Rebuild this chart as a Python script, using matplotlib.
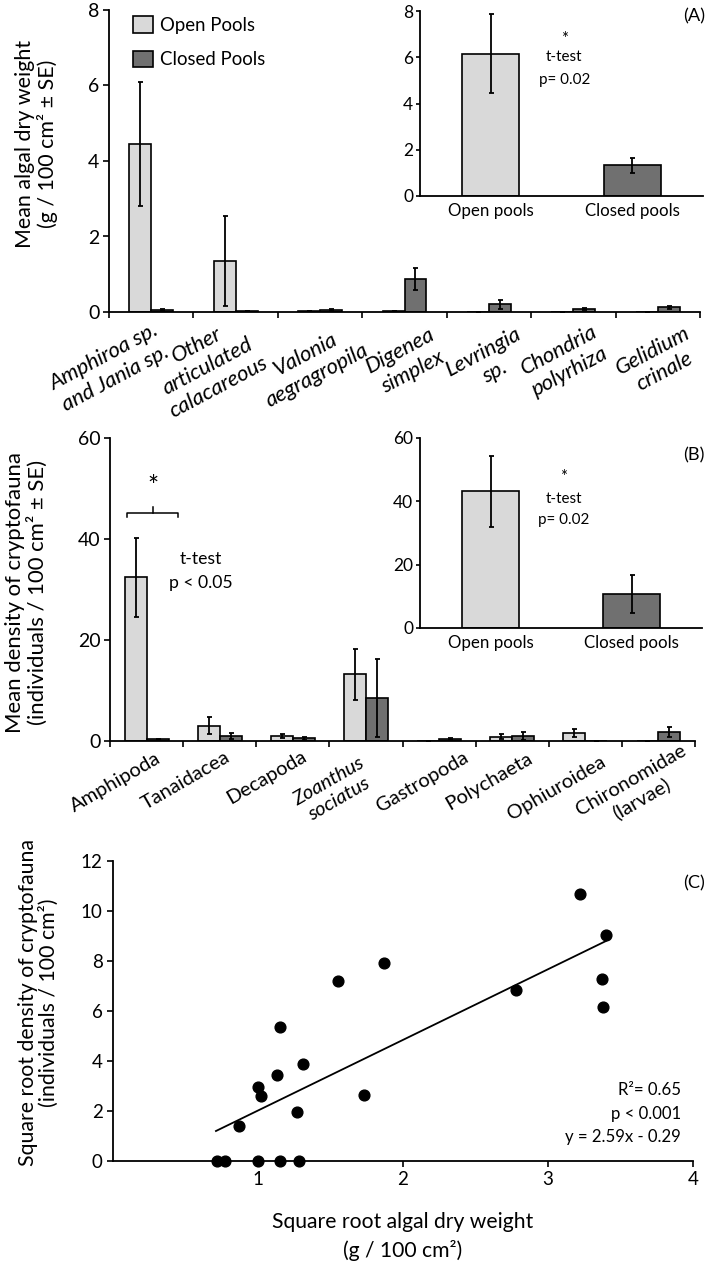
import numpy as np
import matplotlib
matplotlib.use("Agg")
import matplotlib.pyplot as plt

# ---- panel A: algal dry weight ----
algae = ["Amphiroa sp.\nand Jania sp.", "Other\narticulated\ncalacareous", "Valonia\naegragropila",
         "Digenea\nsimplex", "Levringia\nsp.", "Chondria\npolyrhiza", "Gelidium\ncrinale"]
alg_open = [4.45, 1.35, 0.02, 0.02, 0.0, 0.0, 0.0]
alg_open_se = [1.65, 1.18, 0.0, 0.0, 0.0, 0.0, 0.0]
alg_closed = [0.05, 0.02, 0.05, 0.87, 0.20, 0.07, 0.12]
alg_closed_se = [0.02, 0.0, 0.02, 0.30, 0.12, 0.03, 0.04]

pools = ["Open pools", "Closed pools"]
alg_tot = [6.15, 1.33]
alg_tot_se = [1.70, 0.32]

# ---- panel B: cryptofauna density ----
fauna = ["Amphipoda", "Tanaidacea", "Decapoda", "Zoanthus\nsociatus", "Gastropoda",
         "Polychaeta", "Ophiuroidea", "Chironomidae\n(larvae)"]
fau_open = [32.4, 3.0, 0.9, 13.2, 0.0, 0.8, 1.6, 0.0]
fau_open_se = [7.8, 1.7, 0.4, 5.1, 0.0, 0.5, 0.8, 0.0]
fau_closed = [0.3, 0.9, 0.5, 8.5, 0.3, 1.0, 0.0, 1.7]
fau_closed_se = [0.1, 0.6, 0.3, 7.8, 0.2, 0.8, 0.0, 1.0]
fau_tot = [43.2, 10.7]
fau_tot_se = [11.2, 6.0]

# ---- panel C: regression ----
sq_alg = [0.72, 0.77, 1.00, 1.15, 1.28, 0.87, 1.00, 1.02, 1.13, 1.15, 1.27, 1.31,
          1.55, 1.73, 1.87, 2.78, 3.22, 3.40, 3.37, 3.38]
sq_fau = [0.0, 0.0, 0.0, 0.0, 0.0, 1.42, 2.98, 2.61, 3.45, 5.37, 1.98, 3.87,
          7.20, 2.63, 7.92, 6.85, 10.67, 9.05, 7.27, 6.15]
fit_x = [0.71, 3.40]
fit_y = [1.20, 8.80]

# label block centres relative to category centre / axis line (pixels)
lab_off_A = [(-41, 56), (-28, 54), (-9, 53), (2, 49), (0, 50), (-9, 49), (1, 49)]
lab_off_B = [(-31, 41), (-34, 40), (-26, 36), (-32, 49), (-17, 41), (-23, 40), (-29, 47),
             (-22, 49)]

C_OPEN = "#d9d9d9"
C_CLOSED = "#707070"
W, H = 707, 1267
FONT = "Lato"

plt.rcParams["font.family"] = [FONT, "DejaVu Sans"]
fig = plt.figure(figsize=(W / 100, H / 100), dpi=100)
renderer = fig.canvas.get_renderer()


def fit(pairs, **kw):
    # font size giving the text widths (px) measured on the reference
    sizes = []
    for s, target in pairs:
        t = fig.text(0, 0, s, fontsize=20, **kw)
        w = t.get_window_extent(renderer).width
        t.remove()
        sizes.append(20 * target / w)
    return float(np.mean(sizes))


FS_LAB_A = fit([("Amphiroa sp.", 128), ("aegragropila", 112), ("calacareous", 103)], style="italic")
FS_LAB_B = fit([("Amphipoda", 101), ("Tanaidacea", 100)])
FS_LEG = fit([("Open Pools", 95), ("Closed Pools", 105)])
FS_INS = fit([("Open pools", 85), ("Closed pools", 95)])
FS_INS_NOTE = fit([("t-test", 38), ("p= 0.02", 49)])
FS_B_NOTE = fit([("t-test", 42), ("p < 0.05", 65)])
FS_YLAB_A = fit([("Mean algal dry weight", 208)])
FS_YLAB_B = fit([("Mean density of cryptofauna", 282)])
FS_XLAB_C = fit([("Square root algal dry weight", 262)])
FS_YLAB_C = fit([("Square root density of cryptofauna", 327)])
FS_NOTE_C = fit([("y = 2.59x - 0.29", 116)])
FS_TAG = fit([("(A)", 22)])


def px_axes(l, r, t, b):
    return fig.add_axes([l / W, 1 - b / H, (r - l) / W, (b - t) / H])


def style(ax, lw=1.3):
    for s in ["top", "right"]:
        ax.spines[s].set_visible(False)
    for s in ["left", "bottom"]:
        ax.spines[s].set_linewidth(lw)


def grouped(ax, names, op, op_se, cl, cl_se, width, off):
    x = np.arange(len(names))
    eb = dict(ecolor="black", elinewidth=1.3, capsize=1.8, capthick=1.3)
    ax.bar(x - off, op, width, yerr=op_se, color=C_OPEN, edgecolor="black", linewidth=1.2,
           error_kw=eb, label="Open Pools")
    ax.bar(x + off, cl, width, yerr=cl_se, color=C_CLOSED, edgecolor="black", linewidth=1.2,
           error_kw=eb, label="Closed Pools")
    ax.set_xlim(-0.5, len(names) - 0.5)
    ax.set_xticks(np.arange(len(names) + 1) - 0.5)
    ax.set_xticklabels([])
    ax.tick_params(axis="x", length=4, width=1.2, direction="out")
    ax.tick_params(axis="y", length=4, width=1.2, pad=3, labelsize=14)
    style(ax)
    return x


def cat_labels(ax, x, names, offs, rot, fs, italic_all=False):
    for i, name in enumerate(names):
        it = italic_all or name.startswith("Zoanthus")
        dx, dy = offs[i]
        ax.annotate(name, (x[i], 0), xytext=(dx * 0.72, -dy * 0.72), textcoords="offset points",
                    rotation=rot, rotation_mode="anchor", ha="center", va="center",
                    multialignment="center", style="italic" if it else "normal",
                    fontsize=fs, linespacing=1.25, annotation_clip=False)


def inset(ax, vals, se, ymax, step):
    x = np.arange(2)
    eb = dict(ecolor="black", elinewidth=1.3, capsize=1.8, capthick=1.3)
    ax.bar(x, vals, 0.4, yerr=se, color=[C_OPEN, C_CLOSED], edgecolor="black", linewidth=1.2,
           error_kw=eb)
    ax.set_xlim(-0.5, 1.5)
    ax.set_ylim(0, ymax)
    ax.set_yticks(np.arange(0, ymax + 1, step))
    ax.set_xticks(x)
    ax.set_xticklabels(pools, fontsize=FS_INS)
    ax.tick_params(axis="x", length=0, pad=5)
    ax.tick_params(axis="y", length=3, width=1.2, pad=2, labelsize=12.5)
    ax.set_facecolor("none")
    style(ax)


# ---------------- A ----------------
axA = px_axes(109, 700, 10, 312)
xa = grouped(axA, algae, alg_open, alg_open_se, alg_closed, alg_closed_se, 0.26, 0.13)
axA.set_ylim(0, 8)
axA.set_yticks([0, 2, 4, 6, 8])
cat_labels(axA, xa, algae, lab_off_A, 28, FS_LAB_A, italic_all=True)
axA.set_ylabel("Mean algal dry weight\n(g / 100 cm² ± SE)", fontsize=FS_YLAB_A, linespacing=1.1)
axA.yaxis.set_label_coords(-0.086, 0.556)
axA.legend(loc="upper left", bbox_to_anchor=(0.012, 1.035), frameon=False,
           prop=dict(size=FS_LEG), handlelength=1.07, handleheight=1.0,
           labelspacing=0.9, handletextpad=0.4)

axAi = px_axes(420, 703, 11, 196)
inset(axAi, alg_tot, alg_tot_se, 8, 2)
axAi.text(0.52, 6.8, "*", ha="center", va="center", fontsize=12)
axAi.text(0.52, 6.0, "t-test", ha="center", va="center", fontsize=FS_INS_NOTE)
axAi.text(0.52, 5.0, "p= 0.02", ha="center", va="center", fontsize=FS_INS_NOTE)
fig.text(705 / W, 1 - 16 / H, "(A)", ha="right", va="center", fontsize=FS_TAG)

# ---------------- B ----------------
axB = px_axes(110, 695, 438, 741)
xb = grouped(axB, fauna, fau_open, fau_open_se, fau_closed, fau_closed_se, 0.30, 0.15)
axB.set_ylim(0, 60)
axB.set_yticks([0, 20, 40, 60])
cat_labels(axB, xb, fauna, lab_off_B, 30, FS_LAB_B)
axB.set_ylabel("Mean density of cryptofauna\n(individuals / 100 cm² ± SE)", fontsize=FS_YLAB_B,
               linespacing=1.1)
axB.yaxis.set_label_coords(-0.106, 0.49)
# bracket over Amphipoda
axB.plot([-0.27, -0.27, 0.43, 0.43], [44.3, 45.2, 45.2, 44.3], color="black", lw=1.1)
axB.plot([0.085, 0.085], [45.2, 46.3], color="black", lw=1.1)
axB.text(0.085, 50.2, "*", ha="center", va="center", fontsize=19)
axB.text(0.745, 36.0, "t-test", ha="center", va="center", fontsize=FS_B_NOTE)
axB.text(0.745, 31.2, "p < 0.05", ha="center", va="center", fontsize=FS_B_NOTE)

axBi = px_axes(420, 702, 438, 628)
inset(axBi, fau_tot, fau_tot_se, 60, 20)
axBi.text(0.52, 47.6, "*", ha="center", va="center", fontsize=12)
axBi.text(0.52, 40.8, "t-test", ha="center", va="center", fontsize=FS_INS_NOTE)
axBi.text(0.52, 34.1, "p= 0.02", ha="center", va="center", fontsize=FS_INS_NOTE)
fig.text(705 / W, 1 - 455 / H, "(B)", ha="right", va="center", fontsize=FS_TAG)

# ---------------- C ----------------
axC = px_axes(113, 693, 861, 1161)
axC.scatter(sq_alg, sq_fau, s=60, color="black", zorder=3, clip_on=False)
axC.plot(fit_x, fit_y, color="black", lw=1.3)
axC.set_xlim(0, 4)
axC.set_ylim(0, 12)
axC.set_xticks([1, 2, 3, 4])
axC.set_yticks(np.arange(0, 13, 2))
axC.tick_params(axis="both", length=4, width=1.2, labelsize=13.5)
style(axC)
axC.set_xlabel("Square root algal dry weight\n(g / 100 cm²)", fontsize=FS_XLAB_C,
               linespacing=1.45, labelpad=17)
axC.set_ylabel("Square root density of cryptofauna\n(individuals / 100 cm²)", fontsize=FS_YLAB_C,
               linespacing=1.05)
axC.yaxis.set_label_coords(-0.093, 0.527)
for yy, s in [(0.237, "R²= 0.65"), (0.155, "p < 0.001"), (0.08, "y = 2.59x - 0.29")]:
    axC.text(0.979, yy, s, transform=axC.transAxes, ha="right", va="center", fontsize=FS_NOTE_C)
fig.text(705 / W, 1 - 883 / H, "(C)", ha="right", va="center", fontsize=FS_TAG)

fig.savefig("out.png", dpi=100)
